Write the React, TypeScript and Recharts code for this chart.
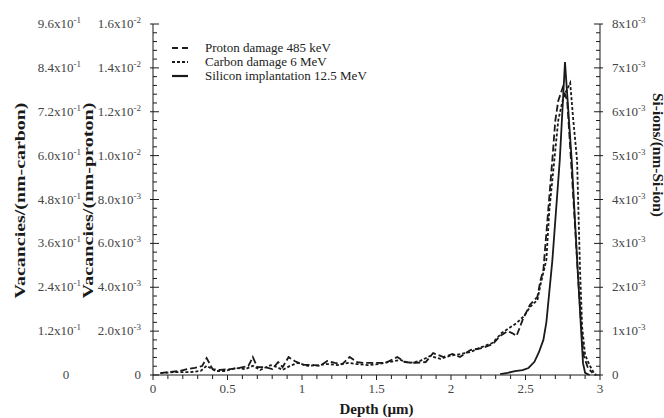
import React from 'react';
import { LineChart, Line, XAxis, YAxis, Legend, Label } from 'recharts';

// depth (µm) and values
const protonDepth = [
  0.05, 0.11, 0.18, 0.23, 0.28, 0.33, 0.36, 0.4, 0.45, 0.52, 0.58, 0.64, 0.67, 0.7, 0.75, 0.8, 0.84, 0.87, 0.91,
  0.95, 1.01, 1.07, 1.12, 1.17, 1.22, 1.27, 1.32, 1.37, 1.42, 1.49, 1.56, 1.64, 1.69, 1.76, 1.83, 1.88, 1.95, 2.01,
  2.06, 2.13, 2.21, 2.28, 2.33, 2.38, 2.41, 2.44, 2.48, 2.53, 2.58, 2.6, 2.62, 2.65, 2.68, 2.7, 2.72, 2.75, 2.78,
  2.81, 2.85, 2.875, 2.89, 2.92, 2.95,
];
const protonVacancies = [
  0.00009, 0.00014, 0.00018, 0.00027, 0.00032, 0.00041, 0.00077, 0.00027, 0.00023, 0.00027, 0.00032, 0.00041,
  0.00082, 0.00036, 0.00036, 0.00027, 0.00059, 0.00036, 0.00082, 0.00064, 0.00046, 0.00046, 0.00041, 0.00064,
  0.00055, 0.0005, 0.00082, 0.00059, 0.00055, 0.00055, 0.00055, 0.00082, 0.00059, 0.00055, 0.00059, 0.001, 0.00082,
  0.00096, 0.00082, 0.00114, 0.00123, 0.00141, 0.00178, 0.002, 0.00191, 0.00178, 0.0025, 0.0032, 0.00356, 0.0043,
  0.0048, 0.0073, 0.0098, 0.0116, 0.0125, 0.0131, 0.0125, 0.0093, 0.0048, 0.0021, 0.0009, 0.0003, 0.0001,
];

const carbonDepth = [
  0.05, 0.15, 0.25, 0.32, 0.36, 0.42, 0.48, 0.56, 0.62, 0.67, 0.72, 0.79, 0.83, 0.87, 0.92, 0.97, 1.04, 1.11, 1.17,
  1.24, 1.31, 1.37, 1.44, 1.51, 1.59, 1.66, 1.72, 1.79, 1.86, 1.93, 1.99, 2.06, 2.13, 2.21, 2.28, 2.34, 2.4, 2.44,
  2.49, 2.53, 2.58, 2.6, 2.64, 2.66, 2.69, 2.72, 2.75, 2.77, 2.8, 2.82, 2.846, 2.866, 2.88, 2.9, 2.93, 2.96, 2.975,
];
const carbonVacancies = [
  0.005, 0.008, 0.008, 0.011, 0.025, 0.011, 0.011, 0.019, 0.016, 0.025, 0.014, 0.027, 0.022, 0.014, 0.025, 0.033,
  0.025, 0.027, 0.03, 0.027, 0.033, 0.03, 0.027, 0.03, 0.036, 0.041, 0.033, 0.038, 0.052, 0.044, 0.052, 0.057,
  0.063, 0.077, 0.088, 0.115, 0.131, 0.142, 0.161, 0.186, 0.205, 0.246, 0.315, 0.451, 0.574, 0.697, 0.752, 0.774,
  0.799, 0.7, 0.588, 0.287, 0.131, 0.055, 0.027, 0.005, 0,
];

const siliconDepth = [
  2.33, 2.38, 2.43, 2.48, 2.52, 2.56, 2.59, 2.62, 2.64, 2.66, 2.68, 2.73, 2.765, 2.81, 2.85, 2.886, 2.9, 2.93,
];
const siliconIons = [
  0.00002, 0.00005, 0.00009, 0.00011, 0.00016, 0.0003, 0.00052, 0.0008, 0.0012, 0.0019, 0.0026, 0.0049, 0.00713,
  0.0049, 0.0024, 0.00027, 0.00005, 0,
];

const seriesNames = ['Proton damage 485 keV', 'Carbon damage 6 MeV', 'Silicon implantation 12.5 MeV'];
const depthLabels = [0, 0.5, 1, 1.5, 2, 2.5, 3];
const protonLabels = [0, 0.002, 0.004, 0.006, 0.008, 0.01, 0.012, 0.014, 0.016];
const carbonLabels = [0, 0.12, 0.24, 0.36, 0.48, 0.6, 0.72, 0.84, 0.96];
const siliconLabels = [0, 0.001, 0.002, 0.003, 0.004, 0.005, 0.006, 0.007, 0.008];

const zip = (xs: number[], ys: number[]) => xs.map((depth, i) => ({ depth, value: ys[i] }));
const protonData = zip(protonDepth, protonVacancies);
const carbonData = zip(carbonDepth, carbonVacancies);
const siliconData = zip(siliconDepth, siliconIons);

// minor tick positions (5 per labelled interval)
const withMinor = (labels: number[]) => {
  const step = (labels[1] - labels[0]) / 5;
  return Array.from({ length: (labels.length - 1) * 5 + 1 }, (_, i) => +(i * step).toPrecision(6));
};
const depthTicks = withMinor(depthLabels);
const protonTicks = withMinor(protonLabels);
const siliconTicks = withMinor(siliconLabels);

const isLabel = (labels: number[], v: number) => labels.some((l) => Math.abs(l - v) < 1e-9);

const SERIF = '"Liberation Serif", "Times New Roman", serif';
const INK = '#1a1a1a';
const TICK_TEXT = '#444';

// axis ids: recharts stacks left axes by id, inner one first
const PROTON_AXIS = 'leftInner';
const CARBON_AXIS = 'leftOuter';

const STYLES = {
  proton: { dash: '7 3', icon: '6 4' },
  carbon: { dash: '3 2', icon: '3 2' },
  silicon: { dash: undefined, icon: undefined },
};
const iconByName: Record<string, string | undefined> = {
  [seriesNames[0]]: STYLES.proton.icon,
  [seriesNames[1]]: STYLES.carbon.icon,
  [seriesNames[2]]: STYLES.silicon.icon,
};

function sci(v: number, digits: number) {
  if (v === 0) return ['0', ''];
  const [m, e] = v.toExponential(digits).split('e');
  return [m + 'x10', String(Number(e))];
}

function SciText({ x, y, v, digits, anchor }: any) {
  const [base, exp] = sci(v, digits);
  return (
    <text x={x} y={y} dy={4} textAnchor={anchor} fontFamily={SERIF} fontSize={13} fill={TICK_TEXT}>
      <tspan>{base}</tspan>
      {exp && (
        <tspan dy={-5} fontSize={9}>
          {exp}
        </tspan>
      )}
    </text>
  );
}

const ProtonTick = ({ x, y, payload }: any) => {
  const major = isLabel(protonLabels, payload.value);
  return (
    <g>
      <line x1={major ? x - 3 : x} x2={x + (major ? 6 : 4)} y1={y} y2={y} stroke={INK} />
      {major && <SciText x={x - 12} y={y} v={payload.value} digits={1} anchor="end" />}
    </g>
  );
};

const CarbonTick = ({ x, y, payload }: any) =>
  payload.value === 0 ? (
    <SciText x={x - 25} y={y} v={0} digits={1} anchor="middle" />
  ) : (
    <SciText x={x - 10} y={y} v={payload.value} digits={1} anchor="end" />
  );

const SiliconTick = ({ x, y, payload }: any) => {
  const major = isLabel(siliconLabels, payload.value);
  return (
    <g>
      <line x1={x - (major ? 6 : 4)} x2={major ? x + 3 : x} y1={y} y2={y} stroke={INK} />
      {major && <SciText x={x + 12} y={y} v={payload.value} digits={0} anchor="start" />}
    </g>
  );
};

const DepthTick = ({ x, y, payload }: any) => {
  const major = isLabel(depthLabels, payload.value);
  return (
    <g>
      <line x1={x} x2={x} y1={y} y2={y + (major ? 5 : 4)} stroke={INK} />
      {major && (
        <text x={x} y={y + 18} textAnchor="middle" fontFamily={SERIF} fontSize={13} fill={TICK_TEXT}>
          {payload.value}
        </text>
      )}
    </g>
  );
};

const TopTick = ({ x, y }: any) => <line x1={x} x2={x} y1={y} y2={y + 4} stroke={INK} />;

const VerticalTitle = ({ cx, cy, text, angle, length }: any) => (
  <text
    x={cx}
    y={cy}
    transform={`rotate(${angle} ${cx} ${cy})`}
    textAnchor="middle"
    dominantBaseline="central"
    fontFamily={SERIF}
    fontWeight="bold"
    fontSize={14}
    fill={INK}
    textLength={length}
    lengthAdjust="spacingAndGlyphs"
  >
    {text}
  </text>
);

const LegendBox = ({ payload }: any) => (
  <div style={{ fontFamily: SERIF, fontSize: 13, color: '#222', lineHeight: '14px' }}>
    {(payload || []).map((entry: any) => (
      <div key={entry.value} style={{ display: 'flex', alignItems: 'center' }}>
        <svg width={42} height={10}>
          <line
            x1={9}
            x2={25}
            y1={5}
            y2={5}
            stroke={INK}
            strokeWidth={2.2}
            strokeDasharray={iconByName[entry.value]}
          />
        </svg>
        <span>{entry.value}</span>
      </div>
    ))}
  </div>
);

export default function App() {
  return (
    <div style={{ position: 'absolute', left: 0, top: 0 }}>
      <LineChart width={664} height={418} margin={{ top: 24, right: 0, bottom: 0, left: 3 }}>
        <XAxis
          xAxisId="depth"
          dataKey="depth"
          type="number"
          domain={[0, 3]}
          ticks={depthTicks}
          interval={0}
          height={43}
          tickSize={0}
          tickMargin={0}
          tickLine={false}
          axisLine={{ stroke: INK }}
          tick={(p: any) => <DepthTick {...p} />}
        >
          <Label
            content={({ viewBox }: any) => (
              <text
                x={viewBox.x + viewBox.width / 2}
                y={viewBox.y + 39}
                textAnchor="middle"
                fontFamily={SERIF}
                fontWeight="bold"
                fontSize={15}
                fill={INK}
              >
                Depth (µm)
              </text>
            )}
          />
        </XAxis>
        <XAxis
          xAxisId="frame"
          type="number"
          orientation="top"
          domain={[0, 3]}
          ticks={depthTicks}
          interval={0}
          height={0}
          tickSize={0}
          tickMargin={0}
          tickLine={false}
          axisLine={{ stroke: INK }}
          tick={(p: any) => <TopTick {...p} />}
        />
        <YAxis
          yAxisId={PROTON_AXIS}
          type="number"
          domain={[0, 0.016]}
          ticks={protonTicks}
          interval={0}
          width={62}
          tickSize={0}
          tickMargin={0}
          tickLine={false}
          axisLine={{ stroke: INK }}
          tick={(p: any) => <ProtonTick {...p} />}
        >
          <Label
            content={({ viewBox }: any) => (
              <VerticalTitle
                cx={viewBox.x - 3}
                cy={viewBox.y + viewBox.height / 2 + 1}
                text="Vacancies/(nm-proton)"
                angle={-90}
                length={196}
              />
            )}
          />
        </YAxis>
        <YAxis
          yAxisId={CARBON_AXIS}
          type="number"
          domain={[0, 0.96]}
          ticks={carbonLabels}
          interval={0}
          width={88}
          tickSize={0}
          tickMargin={0}
          tickLine={false}
          axisLine={false}
          tick={(p: any) => <CarbonTick {...p} />}
        >
          <Label
            content={({ viewBox }: any) => (
              <VerticalTitle
                cx={viewBox.x + 17}
                cy={viewBox.y + viewBox.height / 2 + 1}
                text="Vacancies/(nm-carbon)"
                angle={-90}
                length={196}
              />
            )}
          />
        </YAxis>
        <YAxis
          yAxisId="silicon"
          orientation="right"
          type="number"
          domain={[0, 0.008]}
          ticks={siliconTicks}
          interval={0}
          width={64}
          tickSize={0}
          tickMargin={0}
          tickLine={false}
          axisLine={{ stroke: INK }}
          tick={(p: any) => <SiliconTick {...p} />}
        >
          <Label
            content={({ viewBox }: any) => (
              <VerticalTitle
                cx={viewBox.x + 57}
                cy={155}
                text="Si-ions/(nm-Si-ion)"
                angle={90}
                length={124}
              />
            )}
          />
        </YAxis>
        <Legend
          layout="vertical"
          align="center"
          verticalAlign="middle"
          itemSorter={(item: any) => seriesNames.indexOf(item.value)}
          wrapperStyle={{ left: 163, top: 41, width: 260 }}
          content={(p: any) => <LegendBox {...p} />}
        />
        <Line
          name={seriesNames[0]}
          data={protonData}
          dataKey="value"
          xAxisId="depth"
          yAxisId={PROTON_AXIS}
          type="linear"
          stroke={INK}
          strokeWidth={1.8}
          strokeDasharray={STYLES.proton.dash}
          dot={false}
          isAnimationActive={false}
        />
        <Line
          name={seriesNames[1]}
          data={carbonData}
          dataKey="value"
          xAxisId="depth"
          yAxisId={CARBON_AXIS}
          type="linear"
          stroke={INK}
          strokeWidth={1.8}
          strokeDasharray={STYLES.carbon.dash}
          dot={false}
          isAnimationActive={false}
        />
        <Line
          name={seriesNames[2]}
          data={siliconData}
          dataKey="value"
          xAxisId="depth"
          yAxisId="silicon"
          type="linear"
          stroke={INK}
          strokeWidth={1.8}
          dot={false}
          isAnimationActive={false}
        />
      </LineChart>
    </div>
  );
}
